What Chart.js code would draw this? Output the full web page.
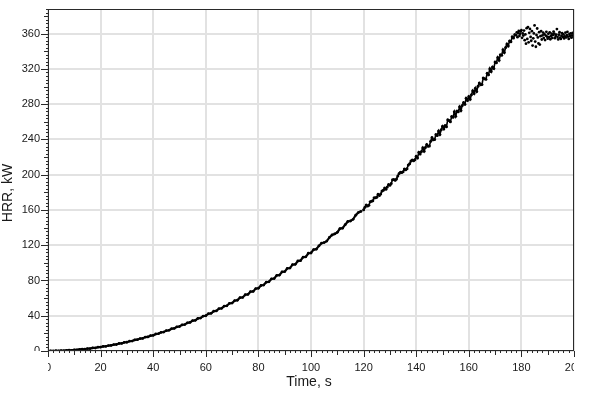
<!DOCTYPE html>
<html>
<head>
<meta charset="utf-8">
<script src="https://cdn.jsdelivr.net/npm/chart.js@4.4.1/dist/chart.umd.min.js"></script>
<style>
  html, body { margin: 0; padding: 0; background: #fff; }
  #wrap { width: 592px; height: 396px; }
</style>
</head>
<body>
<div id="wrap"><canvas id="hrrChart"></canvas></div>
<script>
// Axis ranges and labels
const xMin = 0, xMax = 200;
const yMin = 0, yMax = 388;
const xTicks = [0, 20, 40, 60, 80, 100, 120, 140, 160, 180, 200];
const yTicks = [0, 40, 80, 120, 160, 200, 240, 280, 320, 360];
const xTitle = 'Time, s';
const yTitle = 'HRR, kW';

// HRR samples, growth phase (1 s)
const timeA = [
    0, 1, 2, 3, 4, 5, 6, 7, 8, 9,
    10, 11, 12, 13, 14, 15, 16, 17, 18, 19,
    20, 21, 22, 23, 24, 25, 26, 27, 28, 29,
    30, 31, 32, 33, 34, 35, 36, 37, 38, 39,
    40, 41, 42, 43, 44, 45, 46, 47, 48, 49,
    50, 51, 52, 53, 54, 55, 56, 57, 58, 59,
    60, 61, 62, 63, 64, 65, 66, 67, 68, 69,
    70, 71, 72, 73, 74, 75, 76, 77, 78, 79,
    80, 81, 82, 83, 84, 85, 86, 87, 88, 89,
    90, 91, 92, 93, 94, 95, 96, 97, 98, 99,
    100, 101, 102, 103, 104, 105, 106, 107, 108, 109,
    110, 111, 112, 113, 114, 115, 116, 117, 118, 119
];
const hrrA = [
    0.0, 0.2, 0.0, 0.3, 0.1, 0.4, 0.3, 0.7, 0.9, 0.8,
    1.3, 1.2, 1.8, 2.1, 2.0, 2.8, 2.7, 3.5, 3.4, 4.3,
    4.4, 5.2, 5.3, 6.2, 6.3, 7.3, 7.4, 8.5, 8.6, 9.8,
    9.9, 11.1, 11.3, 12.6, 12.8, 14.1, 14.3, 15.8, 16.0, 17.4,
    17.8, 19.3, 19.6, 21.2, 21.5, 23.1, 23.5, 25.3, 25.6, 27.4,
    27.8, 29.6, 30.0, 32.0, 32.4, 34.4, 34.8, 37.0, 37.4, 39.6,
    40.0, 42.3, 42.7, 45.1, 45.5, 48.0, 48.4, 51.0, 51.3, 54.1,
    54.4, 57.2, 57.6, 60.5, 60.8, 63.8, 64.2, 67.3, 67.6, 70.8,
    71.2, 74.3, 74.8, 78.1, 78.5, 81.9, 82.2, 85.8, 86.1, 89.8,
    90.1, 93.8, 94.1, 98.0, 98.3, 102.1, 102.5, 106.5, 106.8, 110.9,
    111.2, 115.0, 115.5, 119.2, 122.3, 123.0, 124.7, 128.8, 131.6, 132.8,
    134.6, 138.9, 139.3, 143.3, 146.9, 147.5, 149.4, 154.0, 157.1, 158.4
];

// HRR samples, late growth (0.5 s)
const timeB = [
    120, 120.5, 121, 121.5, 122, 122.5, 123, 123.5, 124, 124.5,
    125, 125.5, 126, 126.5, 127, 127.5, 128, 128.5, 129, 129.5,
    130, 130.5, 131, 131.5, 132, 132.5, 133, 133.5, 134, 134.5,
    135, 135.5, 136, 136.5, 137, 137.5, 138, 138.5, 139, 139.5,
    140, 140.5, 141, 141.5, 142, 142.5, 143, 143.5, 144, 144.5,
    145, 145.5, 146, 146.5, 147, 147.5, 148, 148.5, 149, 149.5,
    150, 150.5, 151, 151.5, 152, 152.5, 153, 153.5, 154, 154.5,
    155, 155.5, 156, 156.5, 157, 157.5, 158, 158.5, 159, 159.5,
    160, 160.5, 161, 161.5, 162, 162.5, 163, 163.5, 164, 164.5,
    165, 165.5, 166, 166.5, 167, 167.5, 168, 168.5, 169, 169.5,
    170, 170.5, 171, 171.5, 172, 172.5, 173, 173.5, 174, 174.5,
    175, 175.5, 176, 176.5, 177, 177.5
];
const hrrB = [
    160.3, 163.2, 165.5, 164.4, 165.3, 169.3, 169.8, 170.4, 173.8, 173.9,
    174.3, 177.8, 176.3, 178.2, 181.4, 182.3, 184.8, 183.6, 186.0, 188.9,
    188.1, 190.1, 194.2, 194.6, 193.6, 195.2, 198.6, 201.3, 202.9, 202.4,
    203.3, 206.6, 205.5, 206.9, 211.1, 212.3, 215.5, 216.7, 215.9, 217.1,
    221.0, 219.1, 225.5, 223.5, 226.4, 230.5, 226.6, 231.0, 234.4, 232.4,
    232.6, 238.1, 242.1, 239.8, 239.9, 245.5, 244.4, 249.6, 245.7, 251.0,
    254.9, 252.0, 255.7, 254.5, 262.3, 261.4, 260.2, 266.0, 265.1, 271.4,
    266.3, 272.2, 271.4, 277.0, 272.8, 278.6, 281.9, 279.8, 286.8, 284.2,
    288.6, 285.6, 290.8, 295.3, 292.1, 298.2, 294.5, 300.5, 304.0, 302.1,
    302.4, 309.8, 309.0, 308.3, 315.0, 313.3, 320.3, 317.0, 322.2, 320.4,
    328.0, 327.1, 333.0, 329.8, 336.1, 335.6, 341.8, 338.6, 344.4, 348.4,
    346.0, 351.8, 350.8, 356.4, 355.2, 359.0
];

// HRR samples, steady burning (0.25 s)
const timeC = [
    178, 178.25, 178.5, 178.75, 179, 179.25, 179.5, 179.75,
    180, 180.25, 180.5, 180.75, 181, 181.25, 181.5, 181.75,
    182, 182.25, 182.5, 182.75, 183, 183.25, 183.5, 183.75,
    184, 184.25, 184.5, 184.75, 185, 185.25, 185.5, 185.75,
    186, 186.25, 186.5, 186.75, 187, 187.25, 187.5, 187.75,
    188, 188.25, 188.5, 188.75, 189, 189.25, 189.5, 189.75,
    190, 190.25, 190.5, 190.75, 191, 191.25, 191.5, 191.75,
    192, 192.25, 192.5, 192.75, 193, 193.25, 193.5, 193.75,
    194, 194.25, 194.5, 194.75, 195, 195.25, 195.5, 195.75,
    196, 196.25, 196.5, 196.75, 197, 197.25, 197.5, 197.75,
    198, 198.25, 198.5, 198.75, 199, 199.25, 199.5, 199.75,
    200
];
const hrrC = [
    358.2, 361.5, 356.0, 360.8, 363.1, 357.4, 359.9, 362.6,
    364.0, 355.3, 360.2, 357.8, 363.5, 352.6, 359.1, 348.7,
    366.2, 354.0, 367.5, 350.2, 361.0, 365.4, 356.3, 352.0,
    362.8, 346.5, 354.7, 360.3, 369.4, 351.1, 345.2, 358.5,
    365.9, 355.8, 349.0, 361.7, 347.6, 357.2, 363.0, 353.4,
    358.0, 361.2, 355.0, 359.4, 352.8, 357.9, 362.1, 356.6,
    354.3, 359.8, 356.0, 361.4, 353.7, 357.5, 360.0, 355.2,
    358.6, 362.4, 360.1, 354.9, 357.3, 359.0, 365.2, 356.1,
    353.5, 358.8, 361.6, 355.4, 354.0, 357.7, 360.5, 356.3,
    359.2, 354.6, 357.0, 361.3, 355.8, 358.4, 362.0, 356.7,
    354.1, 359.6, 357.2, 360.4, 355.5, 358.1, 361.0, 356.2,
    358.5
];

const toPoints = (ts, vs) => ts.map((t, i) => ({ x: t, y: vs[i] }));

const labelFont = '11px "Liberation Sans", Arial, sans-serif';
const titleFont = '14px "Liberation Sans", Arial, sans-serif';

// Frame, minor ticks, clipped tick labels and axis titles
const axisDecor = {
    id: 'axisDecor',
    afterDatasetsDraw(chart) {
        const { ctx, chartArea: a, scales: { x, y } } = chart;
        ctx.save();

        ctx.strokeStyle = '#2a2a2a';
        ctx.lineWidth = 1;
        ctx.strokeRect(Math.round(a.left) + 0.5, Math.round(a.top) + 0.5,
            Math.round(a.right - a.left) - 1, Math.round(a.bottom - a.top) - 1);

        ctx.beginPath();
        for (let v = xMin; v <= xMax; v += 2) {
            const px = Math.round(x.getPixelForValue(v)) + 0.5;
            const len = v % 20 === 0 ? 6 : (v % 10 === 0 ? 4 : 2);
            ctx.moveTo(px, a.bottom);
            ctx.lineTo(px, a.bottom + len);
        }
        for (let v = yMin; v <= yMax; v += 4) {
            const py = Math.round(y.getPixelForValue(v)) + 0.5;
            const len = v % 40 === 0 ? 7 : (v % 20 === 0 ? 4 : 2);
            ctx.moveTo(a.left, py);
            ctx.lineTo(a.left - len, py);
        }
        ctx.stroke();

        ctx.fillStyle = '#1a1a1a';
        ctx.font = labelFont;
        ctx.textBaseline = 'middle';

        ctx.save();
        ctx.beginPath();
        ctx.rect(a.left, a.bottom, a.right - a.left, chart.height - a.bottom);
        ctx.clip();
        ctx.textAlign = 'center';
        xTicks.forEach(v => ctx.fillText(String(v), x.getPixelForValue(v), a.bottom + 17));
        ctx.restore();

        ctx.save();
        ctx.beginPath();
        ctx.rect(0, a.top, a.left, a.bottom - a.top);
        ctx.clip();
        ctx.textAlign = 'right';
        yTicks.forEach(v => ctx.fillText(String(v), a.left - 8, y.getPixelForValue(v)));
        ctx.restore();

        ctx.font = titleFont;
        ctx.textAlign = 'center';
        ctx.fillText(xTitle, 309, 382);
        ctx.translate(8, 193);
        ctx.rotate(-Math.PI / 2);
        ctx.fillText(yTitle, 0, 0);

        ctx.restore();
    }
};

const ctx = document.getElementById('hrrChart').getContext('2d');
new Chart(ctx, {
    type: 'scatter',
    data: {
        datasets: [{
            label: 'HRR growth',
            data: toPoints(timeA, hrrA),
            showLine: true,
            borderColor: '#000',
            borderWidth: 2.2,
            backgroundColor: '#000',
            pointRadius: 1.4,
            pointBorderWidth: 0
        }, {
            label: 'HRR late growth',
            data: toPoints(timeB, hrrB),
            showLine: true,
            borderColor: '#000',
            borderWidth: 1.6,
            backgroundColor: '#000',
            pointRadius: 1.5,
            pointBorderWidth: 0
        }, {
            label: 'HRR steady',
            data: toPoints(timeC, hrrC),
            backgroundColor: '#000',
            pointRadius: 1.4,
            pointBorderWidth: 0
        }]
    },
    options: {
        responsive: true,
        maintainAspectRatio: false,
        animation: false,
        layout: { padding: { left: 0, top: 9, right: 18, bottom: 0 } },
        scales: {
            x: {
                type: 'linear',
                min: xMin,
                max: xMax,
                afterFit: s => { s.height = 45; },
                grid: { color: '#e2e2e2', lineWidth: 2, drawTicks: false },
                border: { display: false },
                ticks: { display: false, stepSize: 20 }
            },
            y: {
                type: 'linear',
                min: yMin,
                max: yMax,
                afterFit: s => { s.width = 48; },
                grid: { color: '#e2e2e2', lineWidth: 2, drawTicks: false },
                border: { display: false },
                ticks: { display: false, stepSize: 40, includeBounds: false }
            }
        },
        plugins: {
            legend: { display: false },
            tooltip: { enabled: false }
        }
    },
    plugins: [axisDecor]
});
</script>
</body>
</html>
